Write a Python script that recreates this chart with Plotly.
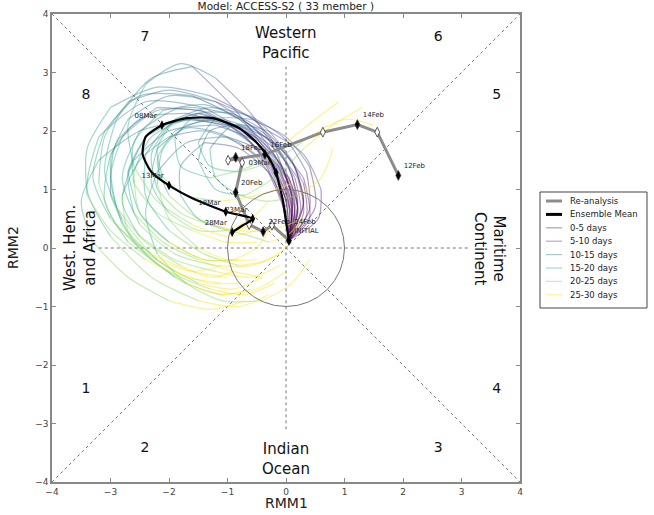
import plotly.graph_objects as go

# ---------------- data ----------------
title_text = "Model: ACCESS-S2 ( 33 member )"
seg_names = ["0-5 days", "5-10 days", "10-15 days", "15-20 days", "20-25 days", "25-30 days"]
seg_colors = ["rgba(68,1,84,0.4)", "rgba(65,68,135,0.42)", "rgba(42,120,142,0.42)",
              "rgba(34,168,132,0.42)", "rgba(122,209,81,0.42)", "rgba(253,231,37,0.5)"]
legend_names = ["Re-analysis", "Ensemble Mean"] + seg_names
legend_colors = ["#8c8c8c", "black"] + seg_colors
legend_widths = [3, 3, 1.2, 1.2, 1.2, 1.2, 1.2, 1.2]

# ensemble members: (RMM1, RMM2) every 2.5 days, day 0..30
members = [
    [(0.05,0.13),(0.05,0.75),(-0.2,1.4),(-0.7,2.0),(-1.5,2.3),(-2.3,2.0),(-2.7,1.3),(-2.5,0.6),(-2.0,0.1),(-1.4,-0.2),(-0.9,-0.2),(-0.5,0.0),(-0.3,0.3)],
    [(0.05,0.13),(0.15,0.6),(0.0,1.2),(-0.4,1.7),(-0.9,2.1),(-1.5,2.3),(-2.0,2.1),(-2.3,1.6),(-2.2,1.0),(-1.8,0.6),(-1.3,0.4),(-0.9,0.3),(-0.6,0.4)],
    [(0.05,0.13),(0.0,0.8),(-0.3,1.6),(-0.9,2.4),(-1.6,3.1),(-2.3,2.9),(-2.9,2.2),(-3.1,1.3),(-2.8,0.5),(-2.2,-0.2),(-1.5,-0.6),(-0.9,-0.7),(-0.4,-0.5)],
    [(0.05,0.13),(0.1,0.7),(-0.1,1.3),(-0.6,1.9),(-1.4,2.4),(-2.4,2.5),(-3.2,1.9),(-3.4,1.0),(-3.0,0.2),(-2.3,-0.5),(-1.5,-0.9),(-0.8,-1.0),(-0.3,-0.8)],
    [(0.05,0.13),(0.4,0.5),(0.3,1.2),(-0.2,1.8),(-0.8,2.1),(-1.3,2.0),(-1.5,1.5),(-1.2,1.0),(-0.7,0.9),(-0.2,1.2),(0.3,1.7),(0.8,2.1),(1.3,2.4)],
    [(0.05,0.13),(0.2,0.6),(0.1,1.25),(-0.3,1.9),(-1.0,2.3),(-1.8,2.4),(-2.5,2.0),(-2.8,1.2),(-2.5,0.4),(-1.9,-0.1),(-1.2,-0.3),(-0.6,-0.3),(-0.1,-0.1)],
    [(0.05,0.13),(-0.05,0.7),(-0.3,1.3),(-0.8,1.7),(-1.4,1.8),(-1.8,1.4),(-1.8,0.9),(-1.5,0.5),(-1.0,0.3),(-0.6,0.2),(-0.3,0.1),(0.0,0.2),(0.3,0.5)],
    [(0.05,0.13),(0.3,0.8),(0.1,1.5),(-0.4,2.1),(-1.2,2.5),(-2.0,2.6),(-2.7,2.2),(-3.0,1.5),(-2.9,0.7),(-2.4,0.1),(-1.8,-0.3),(-1.3,-0.5),(-0.9,-0.4)],
    [(0.05,0.13),(0.0,0.55),(-0.1,1.0),(-0.35,1.45),(-0.8,1.8),(-1.4,2.0),(-2.0,1.9),(-2.5,1.5),(-2.8,0.9),(-2.7,0.3),(-2.2,-0.2),(-1.6,-0.4),(-1.1,-0.3)],
    [(0.05,0.13),(0.5,0.7),(0.4,1.4),(0.0,1.9),(-0.6,2.2),(-1.2,2.2),(-1.5,1.8),(-1.3,1.4),(-0.8,1.3),(-0.2,1.5),(0.4,1.9),(1.0,2.2),(1.5,2.1)],
    [(0.05,0.13),(0.1,0.9),(-0.2,1.6),(-0.8,2.2),(-1.6,2.6),(-2.5,2.6),(-3.1,2.0),(-3.3,1.2),(-3.0,0.5),(-2.5,0.0),(-1.9,-0.4),(-1.3,-0.6),(-0.8,-0.6)],
    [(0.05,0.13),(0.25,0.65),(0.15,1.2),(-0.2,1.75),(-0.75,2.2),(-1.4,2.45),(-2.1,2.35),(-2.6,1.8),(-2.6,1.1),(-2.2,0.6),(-1.6,0.3),(-1.0,0.1),(-0.5,0.1)],
    [(0.05,0.13),(-0.1,0.9),(-0.5,1.7),(-1.3,2.3),(-2.2,2.4),(-2.9,1.8),(-3.0,0.9),(-2.6,0.1),(-1.9,-0.5),(-1.1,-0.9),(-0.4,-0.9),(0.1,-0.6),(0.4,-0.2)],
    [(0.05,0.13),(0.35,0.55),(0.3,1.1),(0.0,1.6),(-0.5,2.0),(-1.1,2.2),(-1.7,2.1),(-2.1,1.7),(-2.2,1.1),(-2.0,0.5),(-1.5,0.0),(-1.0,-0.2),(-0.5,-0.2)],
    [(0.05,0.13),(0.1,0.85),(-0.15,1.6),(-0.6,2.3),(-1.2,2.9),(-1.8,3.15),(-2.4,2.8),(-2.7,2.1),(-2.6,1.4),(-2.2,0.8),(-1.6,0.4),(-1.0,0.2),(-0.5,0.3)],
    [(0.05,0.13),(0.0,0.6),(-0.2,1.15),(-0.55,1.6),(-1.1,1.95),(-1.7,2.05),(-2.2,1.7),(-2.3,1.1),(-2.0,0.6),(-1.5,0.3),(-1.0,0.3),(-0.6,0.5),(-0.3,0.8)],
    [(0.05,0.13),(0.15,0.8),(-0.1,1.45),(-0.7,2.0),(-1.6,2.2),(-2.5,2.0),(-3.2,1.5),(-3.5,0.8),(-3.3,0.1),(-2.7,-0.5),(-2.0,-0.9),(-1.3,-1.05),(-0.7,-0.9)],
    [(0.05,0.13),(0.3,0.75),(0.15,1.4),(-0.3,1.95),(-0.9,2.3),(-1.5,2.3),(-1.9,1.9),(-1.8,1.4),(-1.3,1.2),(-0.6,1.4),(0.0,1.8),(0.5,2.2),(0.9,2.5)],
    [(0.05,0.13),(0.2,0.7),(0.0,1.3),(-0.45,1.85),(-1.1,2.15),(-1.8,2.2),(-2.4,1.9),(-2.7,1.3),(-2.6,0.6),(-2.1,0.1),(-1.5,-0.2),(-0.9,-0.4),(-0.4,-0.5)],
    [(0.05,0.13),(0.1,0.5),(0.0,0.95),(-0.25,1.4),(-0.6,1.8),(-1.1,2.1),(-1.7,2.2),(-2.3,1.9),(-2.6,1.3),(-2.5,0.6),(-2.0,0.1),(-1.4,-0.2),(-0.8,-0.2)],
    [(0.05,0.13),(0.55,0.5),(0.6,1.0),(0.3,1.6),(-0.3,2.0),(-0.9,2.1),(-1.3,1.7),(-1.2,1.2),(-0.8,0.9),(-0.3,0.8),(0.2,0.9),(0.6,1.2),(0.8,1.7)],
    [(0.05,0.13),(0.05,0.7),(-0.25,1.35),(-0.75,1.95),(-1.45,2.35),(-2.2,2.35),(-2.8,1.9),(-3.0,1.2),(-2.8,0.4),(-2.3,-0.2),(-1.7,-0.6),(-1.1,-0.8),(-0.6,-0.7)],
    [(0.05,0.13),(0.2,0.65),(0.05,1.2),(-0.4,1.65),(-1.0,1.9),(-1.7,1.8),(-2.2,1.3),(-2.4,0.6),(-2.2,-0.1),(-1.7,-0.6),(-1.1,-0.8),(-0.5,-0.7),(0.0,-0.4)],
    [(0.05,0.13),(0.1,0.75),(-0.15,1.45),(-0.65,2.0),(-1.35,2.25),(-2.0,2.1),(-2.4,1.6),(-2.4,0.9),(-2.0,0.3),(-1.4,-0.1),(-0.8,-0.3),(-0.3,-0.2),(0.1,0.1)],
    [(0.05,0.13),(0.15,0.7),(-0.05,1.35),(-0.5,2.0),(-1.2,2.5),(-2.0,2.7),(-2.7,2.5),(-3.1,1.9),(-3.2,1.1),(-2.9,0.4),(-2.3,-0.1),(-1.6,-0.4),(-1.0,-0.5)],
    [(0.05,0.13),(0.3,0.6),(0.2,1.2),(-0.2,1.7),(-0.7,2.05),(-1.3,2.2),(-1.9,2.0),(-2.2,1.5),(-2.0,0.9),(-1.5,0.5),(-0.9,0.3),(-0.3,0.3),(0.3,0.5)],
    [(0.05,0.13),(0.0,0.8),(-0.3,1.5),(-0.9,2.05),(-1.7,2.3),(-2.5,2.2),(-3.0,1.6),(-3.1,0.8),(-2.7,0.1),(-2.0,-0.4),(-1.3,-0.7),(-0.7,-0.8),(-0.2,-0.6)],
    [(0.05,0.13),(0.4,0.65),(0.35,1.3),(0.0,1.85),(-0.6,2.25),(-1.3,2.4),(-1.9,2.2),(-2.2,1.7),(-2.1,1.2),(-1.7,0.9),(-1.1,0.8),(-0.5,0.9),(0.1,1.1)],
    [(0.05,0.13),(0.1,0.65),(-0.1,1.25),(-0.5,1.8),(-1.2,2.1),(-2.0,2.0),(-2.6,1.5),(-2.8,0.8),(-2.5,0.2),(-1.9,-0.2),(-1.2,-0.4),(-0.6,-0.5),(-0.1,-0.3)],
    [(0.05,0.13),(0.2,0.8),(0.0,1.5),(-0.5,2.15),(-1.3,2.6),(-2.2,2.75),(-3.0,2.4),(-3.4,1.7),(-3.4,0.9),(-3.0,0.3),(-2.4,-0.2),(-1.7,-0.5),(-1.1,-0.6)],
]

# ensemble mean
mean_x = [0.05, 0.0, -0.05, -0.12, -0.17, -0.3, -0.5, -0.8, -1.25, -1.7, -2.12, -2.4, -2.45, -2.3, -2.0, -1.6, -1.03, -0.57, -0.75, -0.92]
mean_y = [0.13, 0.45, 0.8, 1.1, 1.29, 1.55, 1.8, 2.05, 2.22, 2.22, 2.10, 1.9, 1.6, 1.3, 1.07, 0.85, 0.62, 0.50, 0.38, 0.27]
mean_lbl_x = [-0.17, -2.12, -2.0, -1.03, -0.57, -0.92]
mean_lbl_y = [1.29, 2.10, 1.07, 0.62, 0.50, 0.27]
mean_lbl = ["03Mar", "08Mar", "13Mar", "18Mar", "23Mar", "28Mar"]

# re-analysis (daily)
re_x = [1.92, 1.56, 1.22, 0.63, -0.36, -0.99, -0.86, -0.75, -0.86, -0.63, -0.39, -0.24, 0.05]
re_y = [1.24, 1.98, 2.11, 1.98, 1.60, 1.50, 1.55, 1.46, 0.95, 0.40, 0.28, 0.39, 0.13]
re_lbl = ["12Feb", "", "14Feb", "", "16Feb", "", "18Feb", "", "20Feb", "", "22Feb", "", "24Feb<br>INITIAL"]

phase_lbl = ["1", "2", "3", "4", "5", "6", "7", "8"]
phase_x = [-3.42, -2.41, 2.6, 3.6, 3.6, 2.6, -2.41, -3.42]
phase_y = [-2.42, -3.43, -3.43, -2.42, 2.6, 3.6, 3.6, 2.6]

fig = go.Figure()

# members by 5-day segment
for s in range(6):
    xs, ys = [], []
    for m in members:
        for p in m[2*s:2*s+3]:
            xs.append(p[0]); ys.append(p[1])
        xs.append(None); ys.append(None)
    fig.add_trace(go.Scatter(x=xs, y=ys, mode="lines", name=seg_names[s], showlegend=False,
                             line=dict(color=seg_colors[s], width=1.2, shape="spline", smoothing=0.8),
                             hoverinfo="skip"))

# re-analysis line
fig.add_trace(go.Scatter(x=re_x, y=re_y, mode="lines", name="Re-analysis", showlegend=False,
                         line=dict(color="#8c8c8c", width=3)))
fig.add_trace(go.Scatter(x=re_x, y=re_y, mode="markers+text", showlegend=False,
                         text=re_lbl, textposition="top right",
                         textfont=dict(size=7, color="#222", family="DejaVu Sans"),
                         marker=dict(symbol="diamond-tall", size=7,
                                     color=["black" if l else "white" for l in re_lbl],
                                     line=dict(color="#333", width=0.8))))
# ensemble mean
fig.add_trace(go.Scatter(x=mean_x, y=mean_y, mode="lines", name="Ensemble Mean", showlegend=False,
                         line=dict(color="black", width=2.2, shape="spline", smoothing=0.6)))
fig.add_trace(go.Scatter(x=[mean_x[0]] + mean_lbl_x, y=[mean_y[0]] + mean_lbl_y, mode="markers+text",
                         showlegend=False, text=[""] + mean_lbl, textposition="top left",
                         textfont=dict(size=7, color="#222", family="DejaVu Sans"),
                         marker=dict(symbol="diamond-tall", size=7, color="black")))

# phase numbers
fig.add_trace(go.Scatter(x=phase_x, y=phase_y, mode="text", text=phase_lbl, showlegend=False,
                         textfont=dict(size=14, color="#111", family="DejaVu Sans")))

dot = dict(color="#777", width=1, dash="dot")
shapes = [
    dict(type="line", x0=-4, y0=-4, x1=4, y1=4, line=dot, layer="below"),
    dict(type="line", x0=-4, y0=4, x1=4, y1=-4, line=dot, layer="below"),
    dict(type="line", x0=-3.2, y0=0, x1=3.15, y1=0, line=dot, layer="below"),
    dict(type="line", x0=0, y0=-3.1, x1=0, y1=3.1, line=dot, layer="below"),
    dict(type="circle", x0=-1, y0=-1, x1=1, y1=1, line=dict(color="#777", width=1)),
]

reg_font = dict(size=15, color="#111", family="DejaVu Sans")
lab_font = dict(size=14, color="#222", family="DejaVu Sans")
annotations = [
    dict(x=0, y=3.5, text="Western<br>Pacific", showarrow=False, font=reg_font),
    dict(x=0, y=-3.6, text="Indian<br>Ocean", showarrow=False, font=reg_font),
    dict(x=-3.52, y=0, text="West. Hem.<br>and Africa", showarrow=False, textangle=-90, font=reg_font),
    dict(x=3.47, y=0, text="Maritime<br>Continent", showarrow=False, textangle=90, font=reg_font),
    dict(xref="paper", yref="paper", x=0.5, y=0, yanchor="top", yshift=-11, text="RMM1",
         showarrow=False, font=lab_font),
    dict(xref="paper", yref="paper", x=0, y=0.5, xanchor="right", xshift=-29, text="RMM2",
         textangle=-90, showarrow=False, font=lab_font),
]

# manual legend (paper coordinates, page pixels -> paper)
def px(x): return (x - 52) / 468.0
def py(y): return (482 - y) / 468.0
shapes.append(dict(type="rect", xref="paper", yref="paper", x0=px(540), x1=px(647), y0=py(308), y1=py(192),
                   line=dict(color="#444", width=1), fillcolor="white", layer="above"))
for i, (nm, col, w) in enumerate(zip(legend_names, legend_colors, legend_widths)):
    yy = 201 + 13.4 * i
    shapes.append(dict(type="line", xref="paper", yref="paper", x0=px(546), x1=px(562), y0=py(yy), y1=py(yy),
                       line=dict(color=col, width=w), layer="above"))
    annotations.append(dict(xref="paper", yref="paper", x=px(568), y=py(yy), text=nm, showarrow=False,
                            xanchor="left", yanchor="middle",
                            font=dict(size=8.5, color="#222", family="DejaVu Sans")))

ax = dict(range=[-4, 4], showgrid=False, zeroline=False, showline=True, linecolor="#888", linewidth=1.5,
          mirror="ticks", ticks="inside", ticklen=4, tickcolor="#888", tickvals=[-4, -3, -2, -1, 0, 1, 2, 3, 4],
          tickfont=dict(size=9, color="#444", family="DejaVu Sans"), automargin=False)

fig.update_layout(
    width=654, height=515, autosize=False,
    margin=dict(l=52, r=134, t=14, b=33),
    plot_bgcolor="white", paper_bgcolor="white",
    title=dict(text=title_text, x=0.437, xanchor="center", y=1 - 6 / 515, yanchor="middle", automargin=False,
               font=dict(size=10.5, color="#222", family="DejaVu Sans")),
    xaxis=ax, yaxis=ax,
    shapes=shapes, annotations=annotations,
    showlegend=False,
)

# remove the default 8px body margin so the figure sits at the page's top-left corner
fig.write_html("out.html", config={"displayModeBar": False},
               post_script="document.body.style.margin='0';")
